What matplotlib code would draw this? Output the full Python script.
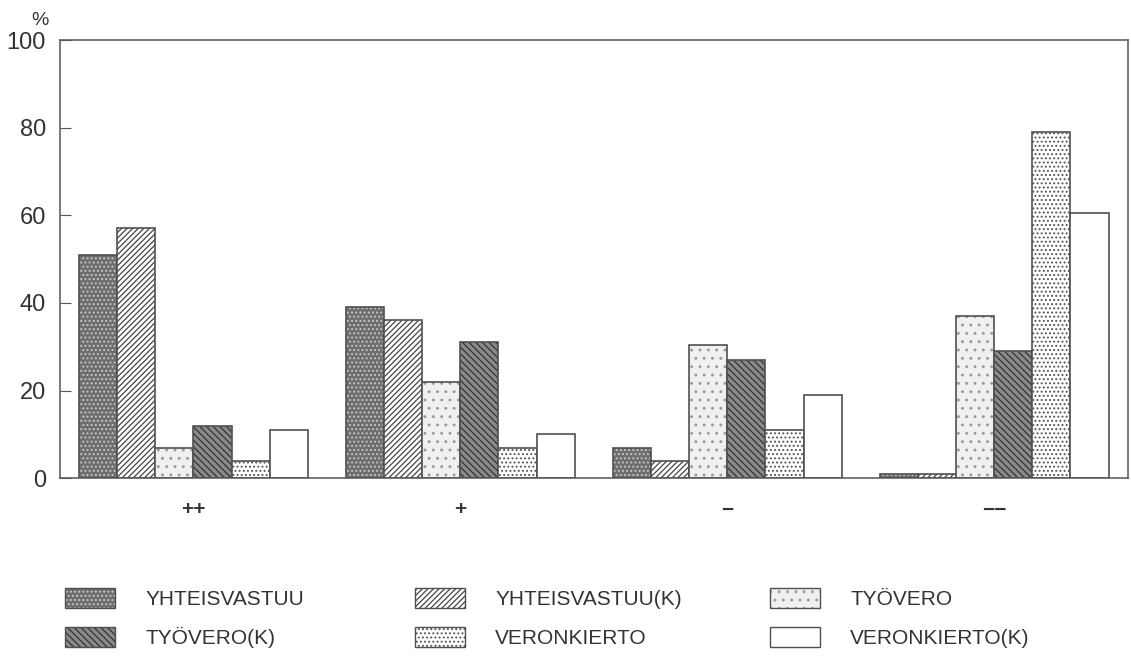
import matplotlib.pyplot as plt
import numpy as np

plt.rcParams['font.family'] = ['Liberation Sans', 'DejaVu Sans']
plt.rcParams['hatch.linewidth'] = 0.9

# Luokat ja sarjat
groups = ['++', '+', '−', '−−']
series = ['YHTEISVASTUU', 'YHTEISVASTUU(K)', 'TYÖVERO',
          'TYÖVERO(K)', 'VERONKIERTO', 'VERONKIERTO(K)']

yhteisvastuu = [51, 39, 7, 1]
yhteisvastuu_k = [57, 36, 4, 1]
tyovero = [7, 22, 30.5, 37]
tyovero_k = [12, 31, 27, 29]
veronkierto = [4, 7, 11, 79]
veronkierto_k = [11, 10, 19, 60.5]

values = [yhteisvastuu, yhteisvastuu_k, tyovero, tyovero_k, veronkierto, veronkierto_k]

# Tyylit: (pohjaväri, viivoituksen väri, viivoitus)
styles = [
    ('#6e6e6e', '#c8c8c8', '....'),
    ('white', '#444444', '//////'),
    ('#f0f0f0', '#9a9a9a', '..'),
    ('#8a8a8a', '#333333', '\\\\\\\\\\'),
    ('white', '#555555', '....'),
    ('white', 'white', ''),
]
edge = '#505050'

fig = plt.figure(figsize=(11.31, 6.56), dpi=100)
ax = fig.add_axes([0.053, 0.271, 0.944, 0.668])

x = np.arange(len(groups))
w = 0.143
handles = []
for i, (vals, (fc, hc, h)) in enumerate(zip(values, styles)):
    pos = x + (i - 2.5) * w
    ax.bar(pos, vals, w, color=fc, edgecolor=hc, hatch=h, linewidth=0)
    ax.bar(pos, vals, w, fill=False, edgecolor=edge, linewidth=1.2)
    p1 = plt.Rectangle((0, 0), 1, 1, facecolor=fc, edgecolor=hc, hatch=h, linewidth=0)
    p2 = plt.Rectangle((0, 0), 1, 1, fill=False, edgecolor=edge, linewidth=1.0)
    handles.append((p1, p2))

ax.set_xlim(-0.5, 3.5)
ax.set_ylim(0, 100)
ax.set_yticks([0, 20, 40, 60, 80, 100])
ax.set_xticks(x)
ax.set_xticklabels(groups, fontsize=15, color='#333333', fontweight='bold')
ax.tick_params(axis='y', direction='in', length=8, labelsize=17, labelcolor='#333333',
               color='#555555', pad=10)
ax.tick_params(axis='x', length=0, pad=16)
for s in ax.spines.values():
    s.set_color('#555555')
    s.set_linewidth(1.1)

ax.text(-0.019, 1.025, '%', transform=ax.transAxes, fontsize=14, color='#333333',
        ha='center', va='bottom')

# Selite kolmessa sarakkeessa
col_x = [65 / 1131, 415 / 1131, 770 / 1131]
for c in range(3):
    idx = [c, c + 3]
    fig.legend([handles[i] for i in idx], [series[i] for i in idx],
               loc='upper left', bbox_to_anchor=(col_x[c], 0.104), frameon=False,
               fontsize=15, handlelength=2.4, handleheight=1.1, handletextpad=1.45,
               labelspacing=0.86, borderpad=0, borderaxespad=0, labelcolor='#333333')

fig.savefig('out.png', dpi=100)
